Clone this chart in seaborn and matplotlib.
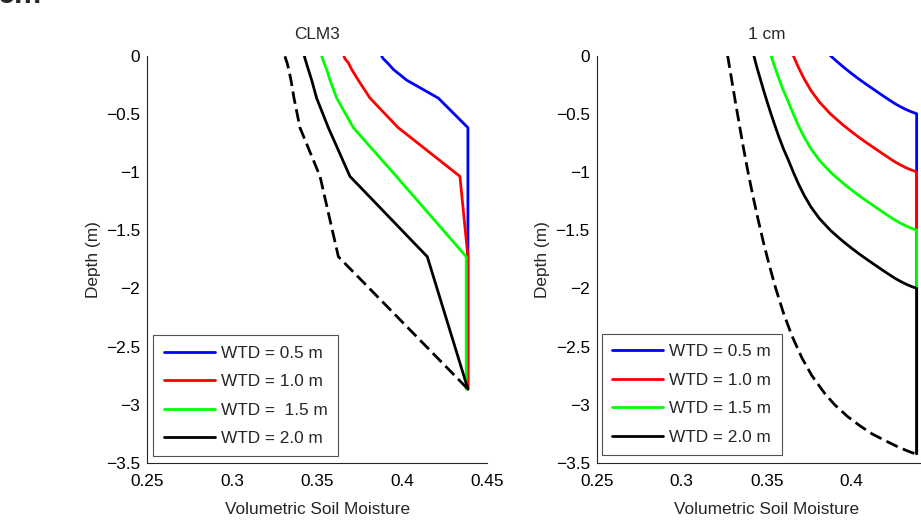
import matplotlib
matplotlib.use("Agg")
import matplotlib.pyplot as plt
import seaborn as sns

# ---- left panel (CLM3 layer nodes) ----
clm3_depth = [-0.007, -0.028, -0.062, -0.119, -0.212, -0.366, -0.620, -1.038, -1.728, -2.865]
clm3_wtd05 = [0.3879, 0.3888, 0.3912, 0.3947, 0.4026, 0.4212, 0.4386, 0.4386, 0.4386, 0.4386]
clm3_wtd10 = [0.3657, 0.3663, 0.3682, 0.3702, 0.3741, 0.3810, 0.3976, 0.4339, 0.4386, 0.4386]
clm3_wtd15 = [0.3526, 0.3532, 0.3539, 0.3555, 0.3575, 0.3614, 0.3712, 0.3965, 0.4376, 0.4376]
clm3_wtd20 = [0.3424, 0.3428, 0.3435, 0.3447, 0.3467, 0.3496, 0.3565, 0.3692, 0.4147, 0.4386]
clm3_deep = [0.3310, 0.3314, 0.3322, 0.3332, 0.3345, 0.3363, 0.3398, 0.3516, 0.3624, 0.4386]

# ---- right panel (1 cm layers) ----
cm_depth_05 = [0, -0.05, -0.1, -0.15, -0.2, -0.25, -0.3, -0.35, -0.4, -0.42, -0.44, -0.46,
               -0.48, -0.5, -3.42]
cm_wtd05 = [0.3874, 0.3912, 0.3952, 0.3995, 0.4040, 0.4088, 0.4138, 0.4188, 0.4240, 0.4262,
            0.4287, 0.4314, 0.4345, 0.4382, 0.4382]
cm_depth_10 = [0, -0.1, -0.2, -0.3, -0.4, -0.5, -0.55, -0.6, -0.65, -0.7, -0.75, -0.8, -0.85,
               -0.9, -0.92, -0.94, -0.96, -0.98, -1.0, -3.42]
cm_wtd10 = [0.3656, 0.3686, 0.3720, 0.3760, 0.3810, 0.3874, 0.3912, 0.3952, 0.3995, 0.4040,
            0.4088, 0.4138, 0.4188, 0.4240, 0.4262, 0.4287, 0.4314, 0.4345, 0.4382, 0.4382]
cm_depth_15 = [0, -0.1, -0.2, -0.3, -0.4, -0.5, -0.6, -0.7, -0.8, -0.9, -1.0, -1.05, -1.1,
               -1.15, -1.2, -1.25, -1.3, -1.35, -1.4, -1.42, -1.44, -1.46, -1.48, -1.5, -3.42]
cm_wtd15 = [0.3525, 0.3548, 0.3572, 0.3598, 0.3628, 0.3656, 0.3686, 0.3720, 0.3760, 0.3810,
            0.3874, 0.3912, 0.3952, 0.3995, 0.4040, 0.4088, 0.4138, 0.4188, 0.4240, 0.4262,
            0.4287, 0.4314, 0.4345, 0.4382, 0.4382]
cm_depth_20 = [0, -0.1, -0.2, -0.3, -0.4, -0.5, -0.6, -0.7, -0.8, -0.9, -1.0, -1.1, -1.2,
               -1.3, -1.4, -1.5, -1.55, -1.6, -1.65, -1.7, -1.75, -1.8, -1.85, -1.9, -1.92,
               -1.94, -1.96, -1.98, -2.0, -3.42]
cm_wtd20 = [0.3424, 0.3442, 0.3462, 0.3482, 0.3503, 0.3525, 0.3548, 0.3572, 0.3598, 0.3628,
            0.3656, 0.3686, 0.3720, 0.3760, 0.3810, 0.3874, 0.3912, 0.3952, 0.3995, 0.4040,
            0.4088, 0.4138, 0.4188, 0.4240, 0.4262, 0.4287, 0.4314, 0.4345, 0.4382, 0.4382]
cm_depth_deep = [0, -0.2, -0.4, -0.6, -0.8, -1.0, -1.2, -1.4, -1.6, -1.8, -2.0, -2.2, -2.4,
                 -2.6, -2.75, -2.9, -3.0, -3.1, -3.18, -3.25, -3.31, -3.36, -3.39, -3.41, -3.42]
cm_deep = [0.3270, 0.3293, 0.3316, 0.3340, 0.3364, 0.3390, 0.3418, 0.3448, 0.3480, 0.3515,
           0.3553, 0.3596, 0.3646, 0.3708, 0.3766, 0.3840, 0.3900, 0.3975, 0.4048, 0.4120,
           0.4200, 0.4270, 0.4318, 0.4352, 0.4375]

left_labels = ["WTD = 0.5 m", "WTD = 1.0 m", "WTD =  1.5 m", "WTD = 2.0 m"]
right_labels = ["WTD = 0.5 m", "WTD = 1.0 m", "WTD = 1.5 m", "WTD = 2.0 m"]
colors = ["#0000ff", "#ff0000", "#00ff00", "#000000"]
xticks = [0.25, 0.3, 0.35, 0.4, 0.45]
xticklabels = ["0.25", "0.3", "0.35", "0.4", "0.45"]
yticks = [0, -0.5, -1, -1.5, -2, -2.5, -3, -3.5]
yticklabels = ["0", "\u22120.5", "\u22121", "\u22121.5", "\u22122", "\u22122.5", "\u22123", "\u22123.5"]

sns.set_style("white")
plt.rcParams["font.family"] = ["Liberation Sans", "DejaVu Sans"]
FS = 12.4
AXCOL = "#262626"

fig = plt.figure(figsize=(9.21, 5.24), dpi=100)
ax_l = fig.add_axes([147.3 / 921, 61 / 524, 340 / 921, 407.5 / 524])
ax_r = fig.add_axes([596.7 / 921, 61 / 524, 340 / 921, 407.5 / 524])


def draw_panel(ax, series, deep, labels, title, leg_xy):
    for (d, v), c in zip(series, colors):
        sns.lineplot(x=v, y=d, sort=False, estimator=None, color=c, linewidth=2, ax=ax)
    sns.lineplot(x=deep[1], y=deep[0], sort=False, estimator=None, color="black",
                 linewidth=2, linestyle=(0, (4.5, 2.0)), ax=ax)
    ax.set_xlim(0.25, 0.45)
    ax.set_ylim(-3.5, 0)
    ax.set_xticks(xticks)
    ax.set_xticklabels(xticklabels)
    ax.set_yticks(yticks)
    ax.set_yticklabels(yticklabels)
    ax.tick_params(direction="in", length=4, width=0.8, colors=AXCOL, labelsize=FS,
                   labelcolor="black")
    ax.tick_params(axis="x", pad=8)
    ax.tick_params(axis="y", pad=5)
    for s in ["top", "right"]:
        ax.spines[s].set_visible(False)
    for s in ["left", "bottom"]:
        ax.spines[s].set_color(AXCOL)
        ax.spines[s].set_linewidth(0.8)
    ax.set_xlabel("Volumetric Soil Moisture", fontsize=FS, labelpad=9)
    ax.set_ylabel("Depth (m)", fontsize=FS, labelpad=4)
    ax.set_title(title, fontsize=FS, pad=12)
    handles = ax.get_lines()[:4]
    leg = ax.legend(handles, labels, loc="lower left", bbox_to_anchor=leg_xy,
                    borderaxespad=0, fontsize=FS, frameon=True, fancybox=False,
                    handlelength=2.95, handletextpad=0.35, labelspacing=0.78,
                    borderpad=0.6)
    leg.get_frame().set_edgecolor(AXCOL)
    leg.get_frame().set_linewidth(0.8)


draw_panel(ax_l,
           [(clm3_depth, clm3_wtd05), (clm3_depth, clm3_wtd10),
            (clm3_depth, clm3_wtd15), (clm3_depth, clm3_wtd20)],
           (clm3_depth, clm3_deep), left_labels, "CLM3", (0.018, 0.016))
draw_panel(ax_r,
           [(cm_depth_05, cm_wtd05), (cm_depth_10, cm_wtd10),
            (cm_depth_15, cm_wtd15), (cm_depth_20, cm_wtd20)],
           (cm_depth_deep, cm_deep), right_labels, "1 cm", (0.016, 0.019))

# clipped bold caption at the very top edge
fig.text(-0.002, 1 - 3 / 524, "cm", fontsize=22, fontweight="bold", va="baseline")

fig.savefig("out.png", dpi=100)
